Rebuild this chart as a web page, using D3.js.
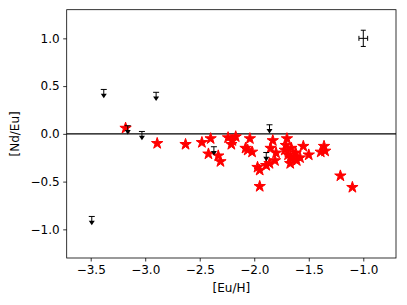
<!DOCTYPE html>
<html>
<head>
<meta charset="utf-8">
<script src="https://cdn.jsdelivr.net/npm/d3@7"></script>
<style>
  body { margin: 0; background: #fff; }
  text { font-family: "DejaVu Sans", sans-serif; }
</style>
</head>
<body>
<svg id="chart" width="407" height="305"></svg>
<script>
// measured stars: [Eu/H], [Nd/Eu]
const starEuH = [-3.18, -2.89, -2.63, -2.48, -2.40, -2.42, -2.33, -2.31, -2.24, -2.21,
  -2.17, -2.20, -2.04, -2.08, -2.02, -2.06, -1.97, -1.95, -1.95, -1.89,
  -1.86, -1.83, -1.85, -1.80, -1.81, -1.70, -1.71, -1.72, -1.69, -1.67,
  -1.67, -1.66, -1.64, -1.62, -1.61, -1.58, -1.55, -1.50, -1.39, -1.36,
  -1.35, -1.21, -1.10];
const starNdEu = [0.06, -0.10, -0.11, -0.09, -0.05, -0.21, -0.23, -0.29, -0.04, -0.11,
  -0.03, -0.07, -0.05, -0.15, -0.19, -0.17, -0.35, -0.38, -0.55, -0.33,
  -0.31, -0.07, -0.15, -0.20, -0.28, -0.05, -0.12, -0.17, -0.22, -0.31,
  -0.25, -0.15, -0.24, -0.20, -0.28, -0.25, -0.13, -0.22, -0.19, -0.13,
  -0.18, -0.44, -0.56];

// upper limits
const limEuH = [-3.49, -3.38, -3.16, -3.03, -2.90, -2.37, -1.89, -1.86];
const limNdEu = [-0.93, 0.40, 0.02, -0.04, 0.37, -0.20, -0.26, 0.03];
const limErr = 0.065;

// typical error bar
const errPoint = { x: -1.0, y: 1.0, xerr: 0.04, yerr: 0.085 };

const xTicks = [-3.5, -3.0, -2.5, -2.0, -1.5, -1.0];
const yTicks = [-1.0, -0.5, 0.0, 0.5, 1.0];

const margin = { top: 9.7, right: 11, bottom: 47, left: 66.7 };
const width = 407 - margin.left - margin.right;
const height = 305 - margin.top - margin.bottom;

const svg = d3.select("#chart");
const g = svg.append("g")
  .attr("transform", "translate(" + margin.left + "," + margin.top + ")");

const x = d3.scaleLinear().domain([-3.72, -0.70]).range([0, width]);
const y = d3.scaleLinear().domain([-1.3, 1.3]).range([height, 0]);

// axes
const xAxis = g.append("g")
  .attr("transform", "translate(0," + height + ")")
  .call(d3.axisBottom(x).tickValues(xTicks).tickFormat(d3.format(".1f"))
    .tickSize(3.5).tickPadding(3.5));
const yAxis = g.append("g")
  .call(d3.axisLeft(y).tickValues(yTicks).tickFormat(d3.format(".1f"))
    .tickSize(3.5).tickPadding(3.5));
[xAxis, yAxis].forEach(a => {
  a.select(".domain").remove();
  a.selectAll("text").style("font-size", "12px").attr("fill", "#000");
  a.selectAll("line").attr("stroke", "#000").attr("stroke-width", 0.8);
});

// zero line
g.append("line")
  .attr("x1", 0).attr("x2", width)
  .attr("y1", y(0)).attr("y2", y(0))
  .attr("stroke", "#000").attr("stroke-width", 1.3);

// stars
const star = d3.symbol().type(d3.symbolStar).size(40);
g.append("g").selectAll("path")
  .data(starEuH.map((d, i) => [d, starNdEu[i]]))
  .join("path")
  .attr("d", star)
  .attr("transform", d => "translate(" + x(d[0]) + "," + y(d[1]) + ")")
  .attr("fill", "#ff0000")
  .attr("stroke", "#ff0000")
  .attr("stroke-width", 1);

// upper limit arrows: cap above, arrowhead at the value
const capDy = y(limErr) - y(0);
const lim = g.append("g").selectAll("g")
  .data(limEuH.map((d, i) => [d, limNdEu[i]]))
  .join("g")
  .attr("transform", d => "translate(" + x(d[0]) + "," + y(d[1]) + ")");
lim.append("line")
  .attr("x1", 0).attr("x2", 0)
  .attr("y1", capDy).attr("y2", 0)
  .attr("stroke", "#000").attr("stroke-width", 1);
lim.append("line")
  .attr("x1", -3).attr("x2", 3)
  .attr("y1", capDy).attr("y2", capDy)
  .attr("stroke", "#000").attr("stroke-width", 1);
lim.append("path")
  .attr("d", "M-3,-2L3,-2L0,2.6Z")
  .attr("fill", "#000");

// error cross
const ex = g.append("g").attr("stroke", "#000").attr("stroke-width", 1);
ex.append("line")
  .attr("x1", x(errPoint.x - errPoint.xerr)).attr("x2", x(errPoint.x + errPoint.xerr))
  .attr("y1", y(errPoint.y)).attr("y2", y(errPoint.y));
ex.append("line")
  .attr("x1", x(errPoint.x)).attr("x2", x(errPoint.x))
  .attr("y1", y(errPoint.y - errPoint.yerr)).attr("y2", y(errPoint.y + errPoint.yerr));
[errPoint.y - errPoint.yerr, errPoint.y + errPoint.yerr].forEach(v => {
  ex.append("line")
    .attr("x1", x(errPoint.x) - 2.5).attr("x2", x(errPoint.x) + 2.5)
    .attr("y1", y(v)).attr("y2", y(v));
});
[errPoint.x - errPoint.xerr, errPoint.x + errPoint.xerr].forEach(v => {
  ex.append("line")
    .attr("x1", x(v)).attr("x2", x(v))
    .attr("y1", y(errPoint.y) - 2.5).attr("y2", y(errPoint.y) + 2.5);
});

// frame
g.append("rect")
  .attr("width", width).attr("height", height)
  .attr("fill", "none").attr("stroke", "#000").attr("stroke-width", 0.8);

// labels
svg.append("text")
  .attr("x", margin.left + width / 2).attr("y", 292)
  .attr("text-anchor", "middle").style("font-size", "12px")
  .text("[Eu/H]");
svg.append("text")
  .attr("transform", "translate(19," + (margin.top + height / 2) + ") rotate(-90)")
  .attr("text-anchor", "middle").style("font-size", "12px")
  .text("[Nd/Eu]");
</script>
</body>
</html>
